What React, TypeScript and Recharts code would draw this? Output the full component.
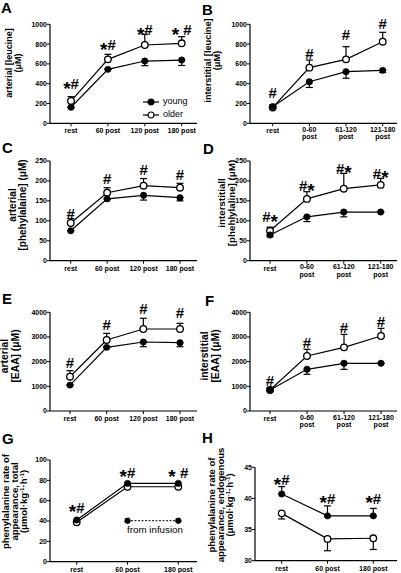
import React from 'react';
import { LineChart, Line, XAxis, YAxis, ErrorBar, ReferenceDot, Legend } from 'recharts';

const FONT = '"Liberation Sans", Arial, Helvetica, sans-serif';

// ---------- categories ----------
const catsPost = ['rest', '60 post', '120 post', '180 post'];
const catsWin = ['rest', '0-60 post', '61-120 post', '121-180 post'];
const catsRa = ['rest', '60 post', '180 post'];

// ---------- tick values ----------
const ticksLeu = [0, 200, 400, 600, 800, 1000];
const ticksPhe = [0, 50, 100, 150, 200, 250];
const ticksEaa = [0, 1000, 2000, 3000, 4000];
const ticksRaTot = [0, 20, 40, 60, 80, 100];
const ticksRaEnd = [30, 35, 40, 45];

// ---------- A: arterial leucine ----------
const aYoung = [162, 545, 629, 639];
const aYoungSem = [0, 0, 47, 55];
const aOlder = [225, 646, 791, 808];
const aOlderSem = [44, 51, 108, 67];
const aMarks = ['*#', '*#', '*#', '* #'];
const aMarkAt = [397, 791, 942, 942];

// ---------- B: interstitial leucine ----------
const bYoung = [168, 420, 521, 535];
const bYoungSem = [0, 58, 66, 22];
const bOlder = [160, 562, 646, 824];
const bOlderSem = [25, 77, 128, 95];
const bMarks = ['#', '#', '#', '#'];
const bMarkAt = [315, 704, 892, 1003];

// ---------- C: arterial phenylalanine ----------
const cYoung = [75, 155, 164, 158];
const cYoungSem = [0, 0, 12, 8];
const cOlder = [94.5, 170.5, 188, 183];
const cOlderSem = [11, 12.5, 18, 11];
const cMarks = ['#', '#', '#', '#'];
const cMarkAt = [118, 207, 229, 216];

// ---------- D: interstitial phenylalanine ----------
const dYoung = [64.4, 110, 122, 122];
const dYoungSem = [4.4, 12, 12, 0];
const dOlder = [75, 155, 180.5, 190];
const dOlderSem = [9, 18, 38.5, 16.5];
const dMarks = ['#*', '#*', '#*', '#*'];
const dMarkAt = [110, 188, 232, 219];

// ---------- E: arterial EAA ----------
const eYoung = [1050, 2580, 2796, 2768];
const eYoungSem = [0, 0, 190, 162];
const eOlder = [1390, 2877, 3323, 3323];
const eOlderSem = [243, 270, 434, 231];
const eMarks = ['#', '#', '#', '#'];
const eMarkAt = [1973, 3498, 4141, 3979];

// ---------- F: interstitial EAA ----------
const fYoung = [851, 1689, 1933, 1933];
const fYoungSem = [0, 202, 244, 0];
const fOlder = [851, 2229, 2580, 3040];
const fOlderSem = [80, 271, 527, 310];
const fMarks = ['#', '#', '#', '#'];
const fMarkAt = [1243, 2768, 3392, 3607];

// ---------- G: phenylalanine Ra, total ----------
const gYoung = [41, 77, 77];
const gOlder = [38.7, 73.7, 73.7];
const gInfusion = [null, 40.3, 40.3];
const gMarks = ['*#', '*#', '* #'];
const gMarkAt = [53.3, 88, 88];
const gNoteAt = { cat: '60 post', value: 31.2, text: 'from infusion' };

// ---------- H: phenylalanine Ra, endogenous ----------
const hYoung = [40.7, 37.2, 37.2];
const hYoungSem = [1.2, 1.6, 1.2];
const hOlder = [37.6, 33.5, 33.6];
const hOlderSem = [0.9, 1.9, 1.8];
const hMarks = ['*#', '*#', '*#'];
const hMarkAt = [43.0, 40.0, 40.0];

const legendOrder = ['young', 'older'];

const Y_AXIS_W = 30;
const X_AXIS_H = 14;

function XTick(props: any) {
  const { x, y, payload, multiline } = props;
  const label = String(payload.value);
  const lines = multiline ? label.split(' ') : [label];
  const offs = lines.length === 1 ? [6] : [4.5, 12];
  return (
    <g>
      {lines.map((l: string, i: number) => (
        <text key={i} x={x} y={y + offs[i]} textAnchor="middle" fontSize={7} fontWeight="bold" fontFamily={FONT} fill="#000">
          {l}
        </text>
      ))}
    </g>
  );
}

function MarkText({ viewBox, text }: any) {
  const cx = viewBox.x + (viewBox.width || 0) / 2;
  const cy = viewBox.y + (viewBox.height || 0) / 2;
  let shift = 0;
  const spans: any[] = [];
  Array.from(text as string).forEach((ch, i) => {
    const isStar = ch === '*';
    const target = isStar ? 5.5 : 0;
    spans.push(
      <tspan key={i} dy={target - shift} fontSize={isStar ? 19 : 15}>
        {ch === ' ' ? '\u00a0' : ch}
      </tspan>
    );
    shift = target;
  });
  return (
    <text x={cx} y={cy + 5.4} textAnchor="middle" fontWeight="bold" fontFamily={FONT} fill="#000">
      {spans}
    </text>
  );
}

function LegendContent(props: any) {
  const items = (props.payload || [])
    .filter((p: any) => legendOrder.includes(p.value))
    .sort((a: any, b: any) => legendOrder.indexOf(a.value) - legendOrder.indexOf(b.value));
  return (
    <div style={{ fontFamily: FONT, fontSize: 9, color: '#000' }}>
      {items.map((it: any) => (
        <div key={it.value} style={{ display: 'flex', alignItems: 'center', height: 13.3 }}>
          <svg width={16} height={8} style={{ display: 'block' }}>
            <line x1={0} y1={4} x2={16} y2={4} stroke="#000" strokeWidth={1.2} />
            <circle cx={8} cy={4} r={3} fill={it.value === 'young' ? '#000' : '#fff'} stroke="#000" strokeWidth={1.2} />
          </svg>
          <span style={{ marginLeft: 4, lineHeight: 1 }}>{it.value}</span>
        </div>
      ))}
    </div>
  );
}

function Panel(p: any) {
  const { box, cats, young, older, youngSem, olderSem, errDir, ticks, domain, marks, markAt, multiline, showLegend, infusion, note } = p;
  const rows = cats.map((c: string, i: number) => ({
    cat: c,
    young: young[i],
    older: older[i],
    youngErr: youngSem ? (errDir < 0 ? [youngSem[i], 0] : [0, youngSem[i]]) : null,
    olderErr: olderSem ? (errDir < 0 ? [0, olderSem[i]] : [olderSem[i], 0]) : null,
    infusion: infusion ? infusion[i] : null,
  }));
  const Hc = box.pb + 20 - box.T;
  const margin = {
    left: box.pl - box.L - Y_AXIS_W,
    right: box.L + box.W - box.pr,
    top: box.pt - box.T,
    bottom: box.T + Hc - box.pb - X_AXIS_H,
  };
  const axisLine = { stroke: '#000', strokeWidth: 1.2 };
  const tickLine = { stroke: '#000', strokeWidth: 1 };
  return (
    <div style={{ position: 'absolute', left: box.L, top: box.T }}>
      <LineChart width={box.W} height={Hc} data={rows} margin={margin}>
        <XAxis
          dataKey="cat"
          scale="point"
          padding={{ left: box.padL, right: box.padR }}
          height={X_AXIS_H}
          interval={0}
          tickSize={3}
          tickMargin={1}
          stroke="#000"
          axisLine={axisLine}
          tickLine={tickLine}
          tick={<XTick multiline={multiline} />}
        />
        <YAxis
          type="number"
          domain={domain}
          ticks={ticks}
          interval={0}
          width={Y_AXIS_W}
          tickSize={3}
          tickMargin={0}
          stroke="#000"
          axisLine={axisLine}
          tickLine={tickLine}
          tick={{ fontSize: 7, fontWeight: 700, fill: '#000', fontFamily: FONT }}
        />
        {infusion && (
          <Line
            dataKey="infusion"
            name="from infusion"
            legendType="none"
            stroke="#000"
            strokeWidth={1}
            strokeDasharray="2 1.5"
            dot={{ r: 3, fill: '#000', stroke: '#000', strokeWidth: 0.5 }}
            activeDot={false}
            isAnimationActive={false}
          />
        )}
        <Line
          dataKey="older"
          name="older"
          stroke="#000"
          strokeWidth={1.2}
          dot={{ r: 3.3, fill: '#fff', stroke: '#000', strokeWidth: 1.3 }}
          activeDot={false}
          isAnimationActive={false}
        >
          {olderSem && <ErrorBar dataKey="olderErr" width={3.5} stroke="#000" strokeWidth={1.2} direction="y" />}
        </Line>
        <Line
          dataKey="young"
          name="young"
          stroke="#000"
          strokeWidth={1.2}
          dot={{ r: 3.2, fill: '#000', stroke: '#000', strokeWidth: 0.5 }}
          activeDot={false}
          isAnimationActive={false}
        >
          {youngSem && <ErrorBar dataKey="youngErr" width={3.5} stroke="#000" strokeWidth={1.2} direction="y" />}
        </Line>
        {marks.map((m: string, i: number) => (
          <ReferenceDot
            key={'m' + i}
            x={cats[i]}
            y={markAt[i]}
            r={0}
            fill="none"
            stroke="none"
            ifOverflow="visible"
            label={{ content: (lp: any) => <MarkText viewBox={lp.viewBox} text={m} /> }}
          />
        ))}
        {note && (
          <ReferenceDot
            x={note.cat}
            y={note.value}
            r={0}
            fill="none"
            stroke="none"
            ifOverflow="visible"
            label={{
              content: (lp: any) => (
                <text x={lp.viewBox.x - 0.5} y={lp.viewBox.y + 3.5} textAnchor="start" fontSize={9.8} fontFamily={FONT} fill="#000">
                  {note.text}
                </text>
              ),
            }}
          />
        )}
        {showLegend && (
          <Legend
            layout="horizontal"
            verticalAlign="middle"
            align="center"
            content={LegendContent}
            wrapperStyle={{ left: 143, top: 95, width: 56, height: 27 }}
          />
        )}
      </LineChart>
    </div>
  );
}

function renderLine(line: string, fs: number) {
  const parts = line.split(/\^\{([^}]*)\}/);
  const out: any[] = [];
  parts.forEach((part, i) => {
    if (i % 2 === 0) {
      if (part) out.push(<tspan key={i} dy={i === 0 ? 0 : fs * 0.35}>{part}</tspan>);
    } else {
      out.push(
        <tspan key={i} dy={-fs * 0.35} fontSize={fs * 0.65}>
          {part}
        </tspan>
      );
    }
  });
  return out;
}

function YLabel({ cx, cy, pitch, fs, lines }: any) {
  const n = lines.length;
  return (
    <g transform={`translate(${cx},${cy}) rotate(-90)`}>
      {lines.map((ln: string, i: number) => (
        <text
          key={i}
          x={0}
          y={(i - (n - 1) / 2) * pitch + fs * 0.34}
          textAnchor="middle"
          fontSize={fs}
          fontWeight="bold"
          fontFamily={FONT}
          fill="#000"
        >
          {renderLine(ln, fs)}
        </text>
      ))}
    </g>
  );
}

const boxes: any = {
  A: { L: 0, T: 0, W: 200, pl: 50, pr: 197, pt: 24.3, pb: 123.3, padL: 21, padR: 15.3 },
  B: { L: 200, T: 0, W: 201, pl: 250, pr: 397, pt: 24.3, pb: 123.3, padL: 22.7, padR: 14.3 },
  C: { L: 0, T: 140, W: 200, pl: 50, pr: 197, pt: 161, pb: 260.7, padL: 20.7, padR: 17 },
  D: { L: 200, T: 140, W: 201, pl: 250, pr: 397, pt: 161, pb: 260.7, padL: 20, padR: 16.3 },
  E: { L: 0, T: 280, W: 200, pl: 50, pr: 197, pt: 312.3, pb: 411, padL: 20, padR: 17 },
  F: { L: 200, T: 280, W: 201, pl: 250, pr: 397, pt: 312.3, pb: 411, padL: 20, padR: 16 },
  G: { L: 0, T: 420, W: 200, pl: 50, pr: 197, pt: 460, pb: 561.7, padL: 26.7, padR: 18.7 },
  H: { L: 200, T: 420, W: 201, pl: 255, pr: 397, pt: 467.3, pb: 560.7, padL: 26.7, padR: 23.7 },
};

const letters = [
  { t: 'A', x: 1, y: 13 },
  { t: 'B', x: 202, y: 15 },
  { t: 'C', x: 2, y: 153 },
  { t: 'D', x: 203, y: 154 },
  { t: 'E', x: 2, y: 304 },
  { t: 'F', x: 205, y: 306 },
  { t: 'G', x: 2, y: 444 },
  { t: 'H', x: 202, y: 443 },
];

const yLabels = [
  { cx: 13.5, cy: 63, pitch: 9.5, fs: 9, lines: ['arterial [leucine]', '(μM)'] },
  { cx: 212.5, cy: 60.5, pitch: 9.7, fs: 9.2, lines: ['interstitial [leucine]', '(μM)'] },
  { cx: 17.5, cy: 205, pitch: 10.3, fs: 10, lines: ['arterial', '[phehylalaine] (μM)'] },
  { cx: 227, cy: 203, pitch: 9.8, fs: 9.8, lines: ['interstitiall', '[phehlylaline] (μM)'] },
  { cx: 10, cy: 356, pitch: 10.2, fs: 10.3, lines: ['arterial', '[EAA] (μM)'] },
  { cx: 210, cy: 356, pitch: 10.2, fs: 10.3, lines: ['interstitial', '[EAA] (μM)'] },
  { cx: 15, cy: 501.5, pitch: 9.2, fs: 9.5, lines: ['phenylalanine rate of', 'appearance, total', '(μmol·kg^{-1}·h^{-1})'] },
  { cx: 221, cy: 505, pitch: 9.2, fs: 9.5, lines: ['phenylalanine rate of', 'appearance, endogenous', '(μmol·kg^{-1}·h^{-1})'] },
];

export default function App() {
  return (
    <div style={{ position: 'absolute', left: 0, top: 0, width: 401, height: 573, overflow: 'hidden', background: '#fff' }}>
      <Panel box={boxes.A} cats={catsPost} young={aYoung} older={aOlder} youngSem={aYoungSem} olderSem={aOlderSem} errDir={-1}
        ticks={ticksLeu} domain={[0, 1000]} marks={aMarks} markAt={aMarkAt} showLegend />
      <Panel box={boxes.B} cats={catsWin} young={bYoung} older={bOlder} youngSem={bYoungSem} olderSem={bOlderSem} errDir={-1}
        ticks={ticksLeu} domain={[0, 1000]} marks={bMarks} markAt={bMarkAt} multiline />
      <Panel box={boxes.C} cats={catsPost} young={cYoung} older={cOlder} youngSem={cYoungSem} olderSem={cOlderSem} errDir={-1}
        ticks={ticksPhe} domain={[0, 250]} marks={cMarks} markAt={cMarkAt} />
      <Panel box={boxes.D} cats={catsWin} young={dYoung} older={dOlder} youngSem={dYoungSem} olderSem={dOlderSem} errDir={-1}
        ticks={ticksPhe} domain={[0, 250]} marks={dMarks} markAt={dMarkAt} multiline />
      <Panel box={boxes.E} cats={catsPost} young={eYoung} older={eOlder} youngSem={eYoungSem} olderSem={eOlderSem} errDir={-1}
        ticks={ticksEaa} domain={[0, 4000]} marks={eMarks} markAt={eMarkAt} />
      <Panel box={boxes.F} cats={catsWin} young={fYoung} older={fOlder} youngSem={fYoungSem} olderSem={fOlderSem} errDir={-1}
        ticks={ticksEaa} domain={[0, 4000]} marks={fMarks} markAt={fMarkAt} multiline />
      <Panel box={boxes.G} cats={catsRa} young={gYoung} older={gOlder} errDir={-1}
        ticks={ticksRaTot} domain={[0, 100]} marks={gMarks} markAt={gMarkAt} infusion={gInfusion} note={gNoteAt} />
      <Panel box={boxes.H} cats={catsRa} young={hYoung} older={hOlder} youngSem={hYoungSem} olderSem={hOlderSem} errDir={1}
        ticks={ticksRaEnd} domain={[30, 45]} marks={hMarks} markAt={hMarkAt} />
      <svg width={401} height={573} style={{ position: 'absolute', left: 0, top: 0, pointerEvents: 'none' }}>
        {letters.map((l) => (
          <text key={l.t} x={l.x} y={l.y} fontSize={15} fontWeight="bold" fontFamily={FONT} fill="#000">
            {l.t}
          </text>
        ))}
        {yLabels.map((yl, i) => (
          <YLabel key={i} {...yl} />
        ))}
      </svg>
    </div>
  );
}
